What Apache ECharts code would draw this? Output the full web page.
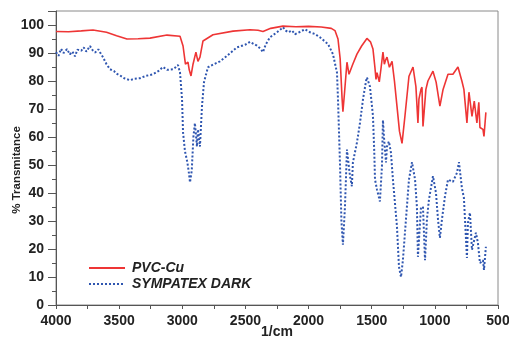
<!DOCTYPE html>
<html>
<head>
<meta charset="utf-8">
<script src="https://cdn.jsdelivr.net/npm/echarts@6/dist/echarts.min.js"></script>
<style>
  html, body { margin: 0; padding: 0; background: #fff; }
  #chart { width: 509px; height: 338px; }
</style>
</head>
<body>
<div id="chart"></div>
<script>
// wavenumber (1/cm) and % transmittance
var redWn = [4000, 3900, 3800, 3707, 3600, 3520, 3438, 3350, 3256, 3121, 3018, 2994, 2975, 2962, 2955, 2945, 2931, 2915, 2892, 2876, 2865, 2860, 2836, 2757, 2598, 2464, 2400, 2361, 2300, 2203, 2100, 2000, 1900, 1820, 1791, 1767, 1750, 1735, 1728, 1715, 1696, 1680, 1650, 1617, 1580, 1538, 1510, 1490, 1475, 1466, 1458, 1450, 1440, 1425, 1411, 1400, 1390, 1379, 1360, 1339, 1320, 1300, 1280, 1260, 1237, 1205, 1173, 1150, 1134, 1126, 1110, 1102, 1094, 1071, 1055, 1015, 990, 960, 935, 896, 857, 817, 786, 770, 746, 730, 706, 688, 667, 652, 643, 630, 619, 611, 596];
var redT = [97.7, 97.6, 97.9, 98.2, 97.4, 96.2, 95.0, 95.1, 95.3, 96.4, 96.0, 92.5, 86.0, 85.5, 86.7, 84, 81.8, 86.0, 90.3, 87.0, 86.8, 88.5, 94.3, 96.5, 97.8, 98.3, 98.1, 97.7, 98.8, 99.6, 99.4, 99.5, 99.3, 98.8, 98, 95, 88, 74, 69, 76, 86.7, 82.4, 86, 89.6, 92.5, 95.2, 94, 91.4, 85, 80.6, 83, 82.4, 79.7, 85, 90.3, 86, 87.5, 88.5, 84.9, 87, 80, 71, 62, 57.7, 67.4, 81.7, 85, 78, 65, 73.5, 77, 77.8, 63.8, 77, 80, 83.5, 79.6, 71, 77, 82.4, 82.4, 85, 80, 77, 65, 76, 67.4, 72.8, 65, 72.4, 63.4, 64, 62.7, 60.2, 68.8];

var blueWn = [4000, 3980, 3960, 3940, 3913, 3890, 3870, 3850, 3830, 3800, 3780, 3760, 3731, 3710, 3690, 3665, 3652, 3628, 3600, 3572, 3540, 3520, 3493, 3460, 3414, 3380, 3335, 3290, 3232, 3190, 3153, 3120, 3074, 3050, 3034, 3018, 3002, 2994, 2979, 2960, 2950, 2939, 2925, 2912, 2900, 2884, 2876, 2860, 2844, 2828, 2797, 2750, 2702, 2646, 2567, 2500, 2464, 2409, 2380, 2361, 2340, 2306, 2250, 2220, 2203, 2180, 2163, 2130, 2108, 2070, 2029, 1989, 1950, 1910, 1846, 1807, 1775, 1767, 1751, 1740, 1728, 1712, 1696, 1688, 1672, 1657, 1649, 1617, 1593, 1569, 1545, 1538, 1514, 1490, 1480, 1474, 1458, 1435, 1419, 1411, 1403, 1387, 1379, 1364, 1348, 1332, 1300, 1284, 1268, 1253, 1229, 1205, 1181, 1157, 1142, 1134, 1110, 1094, 1078, 1063, 1047, 1015, 991, 975, 960, 944, 920, 896, 857, 825, 809, 786, 770, 746, 738, 722, 706, 698, 675, 659, 643, 619, 611, 596];
var blueT = [90.3, 89, 91.5, 90, 91.4, 89.5, 90.5, 88.8, 91.2, 90.8, 92.0, 90.5, 92.5, 91, 90.2, 91.3, 90.3, 88.5, 86, 84.2, 83.5, 82.6, 82, 81, 80.3, 80.8, 81, 81.8, 82.4, 83.5, 85, 84, 84.2, 85, 85.7, 83, 73.5, 61.6, 55, 51, 48, 43.8, 48, 60, 65, 56.6, 62.7, 56.6, 71, 79.6, 84.9, 86, 87, 89, 92, 93, 94, 92.6, 91.5, 90.3, 93, 95.6, 97.4, 98.5, 99.2, 98, 97.4, 98, 96.7, 97.5, 98.5, 97.4, 96.8, 95.6, 93.2, 89.6, 83, 73.5, 50, 30, 21.5, 35, 55.5, 55.3, 46, 42.4, 50.9, 58, 65, 73.5, 80, 81.3, 78, 67.5, 55, 44.8, 41.2, 37, 49.5, 66, 60, 50.9, 56.6, 58.4, 54.5, 44.8, 28, 13.6, 10, 16, 30.5, 44.8, 51, 44.8, 35, 17.2, 34.8, 35, 16, 30.5, 37.6, 46, 40, 30.5, 24, 30.5, 38.8, 44.8, 44, 47.2, 51, 41.8, 38.3, 16.8, 29.4, 33, 19.7, 19, 25.8, 22.2, 15, 16, 12.5, 20.8];

var seriesNames = ["PVC-Cu", "SYMPATEX DARK"];

function pairs(xs, ys) {
  return xs.map(function (x, i) { return [x, ys[i]]; });
}

var chart = echarts.init(document.getElementById("chart"));
var fontFam = "Liberation Sans, Arial, sans-serif";
var labelFont = { color: "#222", fontWeight: "bold", fontSize: 14, fontFamily: fontFam };

var option = {
  animation: false,
  backgroundColor: "#fff",
  grid: {
    left: 56, right: 11, top: 11, bottom: 33,
    outerBoundsMode: "none",
    show: true, borderColor: "#8a8a8a", borderWidth: 1
  },
  legend: {
    orient: "vertical",
    left: 83,
    top: 256,
    itemWidth: 36,
    itemHeight: 10,
    itemGap: 2,
    data: seriesNames,
    itemStyle: { opacity: 0 },
    textStyle: { color: "#222", fontWeight: "bold", fontStyle: "italic", fontSize: 14, fontFamily: fontFam, padding: [0, 0, 0, 2] }
  },
  xAxis: {
    type: "value",
    inverse: true,
    min: 500,
    max: 4000,
    interval: 500,
    name: "1/cm",
    nameLocation: "middle",
    nameGap: 20,
    nameMoveOverlap: false,
    nameTextStyle: labelFont,
    axisLine: { lineStyle: { color: "#555", width: 1 } },
    axisTick: { length: 4, lineStyle: { color: "#555" } },
    minorTick: { show: true, splitNumber: 2, length: 4, lineStyle: { color: "#555" } },
    axisLabel: Object.assign({
      margin: 9,
      formatter: function (v) { return String(v); }
    }, labelFont),
    splitLine: { show: false }
  },
  yAxis: {
    type: "value",
    min: 0,
    max: 105,
    interval: 10,
    name: "% Transmitance",
    nameLocation: "middle",
    nameRotate: 90,
    nameGap: 33,
    nameMoveOverlap: false,
    nameTextStyle: { color: "#222", fontWeight: "bold", fontSize: 11.5, fontFamily: fontFam, padding: [0, 24, 0, 0] },
    axisLine: { show: true, lineStyle: { color: "#555", width: 1 } },
    axisTick: { show: true, length: 8, lineStyle: { color: "#555" } },
    minorTick: { show: true, splitNumber: 2, length: 4, lineStyle: { color: "#555" } },
    axisLabel: Object.assign({
      margin: 12,
      formatter: function (v) { return v > 100 ? "" : String(v); }
    }, labelFont),
    splitLine: { show: false }
  },
  series: [
    {
      name: seriesNames[0],
      type: "line",
      symbol: "none",
      data: pairs(redWn, redT),
      itemStyle: { color: "#ee3535" },
      lineStyle: { color: "#ee3535", width: 1.6 }
    },
    {
      name: seriesNames[1],
      type: "line",
      symbol: "none",
      data: pairs(blueWn, blueT),
      itemStyle: { color: "#2f56b0" },
      lineStyle: { color: "#2f56b0", width: 2, type: [2, 2] }
    }
  ]
};

chart.setOption(option);
</script>
</body>
</html>
